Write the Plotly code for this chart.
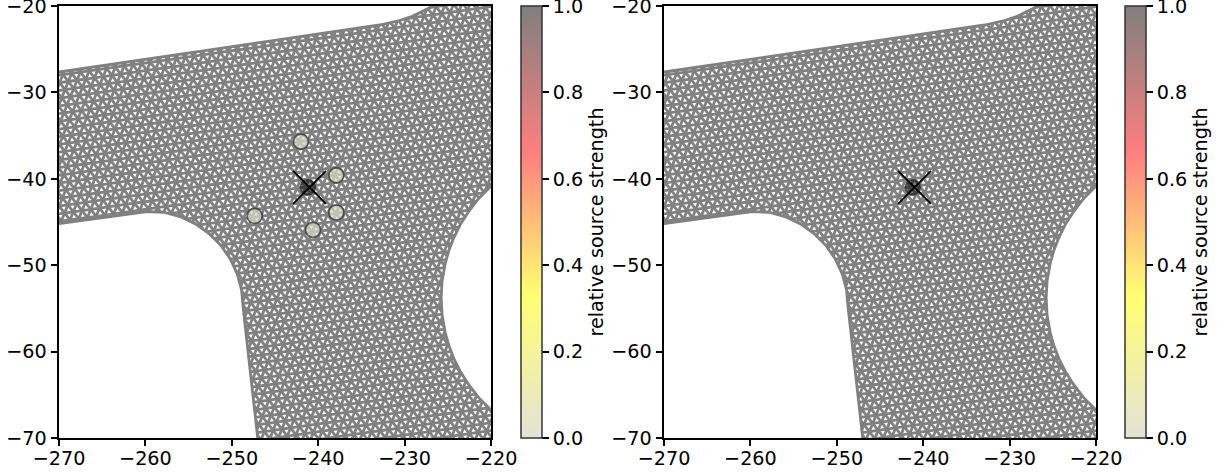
import math
import numpy as np
import plotly.graph_objects as go

# Region outline of the meshed domain
outline_x = [-272.0, -270.0, -232.9, -230.6, -229.1, -227.9, -227.1, -226.5, -224.0, -218.0,
             -218.0, -218.55, -219.97, -221.45, -222.6, -223.56, -224.3, -224.88, -225.3, -225.66, -225.77,
             -225.66, -225.3, -224.88, -224.3, -223.56, -222.6, -221.45, -219.97, -218.55, -218.0, -218.0,
             -246.7, -247.0, -248.7, -248.87, -249.37, -250.19, -251.3, -252.67, -254.25, -256.0, -257.87, -259.8,
             -270.0, -272.0]
outline_y = [-27.9, -27.64, -22.2, -21.7, -21.2, -20.6, -20.15, -19.9, -18.5, -18.5,
             -39.3, -39.3, -40.8, -42.3, -43.8, -45.3, -46.8, -48.3, -49.8, -51.8, -53.8,
             -55.8, -57.8, -59.3, -60.8, -62.3, -63.8, -65.3, -66.8, -68.3, -68.3, -72.5,
             -72.5, -70.0, -54.8, -52.87, -51.0, -49.25, -47.67, -46.3, -45.19, -44.37, -43.87, -43.8,
             -45.2, -45.5]

mesh_edge = 1.02
mesh_angle_deg = 8.0

source_x = [-242.0, -237.9, -237.9, -240.6, -247.35, -241.2]
source_y = [-35.7, -39.6, -43.9, -45.9, -44.3, -41.0]
source_strength = [0.0, 0.0, 0.0, 0.0, 0.0, 1.0]
estimate_x = [-241.0]
estimate_y = [-41.0]
cbar_ticks = [0.0, 0.2, 0.4, 0.6, 0.8, 1.0]
x_ticks = [-270, -260, -250, -240, -230, -220]
y_ticks = [-70, -60, -50, -40, -30, -20]
cbar_label = "relative source strength"

px, py = np.array(outline_x), np.array(outline_y)


def inside(x, y):
    x1, y1 = px, py
    x2, y2 = np.roll(px, -1), np.roll(py, -1)
    cond = (y1 > y) != (y2 > y)
    with np.errstate(divide="ignore", invalid="ignore"):
        xi = x1 + (y - y1) * (x2 - x1) / (y2 - y1)
    return bool(np.sum(cond & (x < xi)) % 2)


def build_mesh():
    th = math.radians(mesh_angle_deg)
    ax, ay = mesh_edge * math.cos(th), mesh_edge * math.sin(th)
    bx, by = mesh_edge * math.cos(th + math.pi / 3), mesh_edge * math.sin(th + math.pi / 3)
    x0, y0 = -245.0, -45.0
    xs, ys = [], []
    n = 90
    cache = {}

    def ins(i, j):
        k = (i, j)
        if k not in cache:
            cache[k] = inside(x0 + i * ax + j * bx, y0 + i * ay + j * by)
        return cache[k]

    for i in range(-n, n):
        for j in range(-n, n):
            xa, ya = x0 + i * ax + j * bx, y0 + i * ay + j * by
            if not (-273 < xa < -217 and -74 < ya < -17):
                continue
            for di, dj in ((1, 0), (0, 1), (-1, 1)):
                xb, yb = x0 + (i + di) * ax + (j + dj) * bx, y0 + (i + di) * ay + (j + dj) * by
                ia, ib = ins(i, j), ins(i + di, j + dj)
                if not ia and not ib:
                    continue
                sx, sy, ex, ey = xa, ya, xb, yb
                if ia != ib:
                    lo, hi = 0.0, 1.0
                    if ib:
                        sx, sy, ex, ey = xb, yb, xa, ya
                    for _ in range(10):
                        m = (lo + hi) / 2
                        if inside(sx + m * (ex - sx), sy + m * (ey - sy)):
                            lo = m
                        else:
                            hi = m
                    ex, ey = sx + lo * (ex - sx), sy + lo * (ey - sy)
                xs += [round(sx, 3), round(ex, 3), None]
                ys += [round(sy, 3), round(ey, 3), None]
    xs += outline_x + [None]
    ys += outline_y + [None]
    return xs, ys


mesh_x, mesh_y = build_mesh()

W, H = 1223, 473
ML, MR, MT, MB = 59, 50, 6, 35
PW = W - ML - MR
FONT = "DejaVu Sans"
FS = 19.2
TICK = 6.7
LW = 1.5
GREY = "#808080"
BAR_SCALE = [[0, "#e3e2d7"], [0.33, "#ffff73"], [0.66, "#ff7f7f"], [1, "#7f7f7f"]]
DOT_SCALE = [[0, "rgba(216,216,202,0.72)"], [0.33, "rgba(255,255,0,0.5)"],
             [0.66, "rgba(255,0,0,0.5)"], [1, "rgba(0,0,0,0.5)"]]


def fx(pixel):
    return (pixel - ML) / PW


fig = go.Figure()
panels = [
    dict(xa="x", ya="y", bar=520.5, src=(source_x, source_y, source_strength)),
    dict(xa="x2", ya="y2", bar=1125.0, src=(source_x[-1:], source_y[-1:], source_strength[-1:])),
]
for p in panels:
    fig.add_trace(go.Scatter(x=mesh_x, y=mesh_y, xaxis=p["xa"], yaxis=p["ya"], mode="lines",
                             line=dict(color=GREY, width=2.8), hoverinfo="skip", showlegend=False))
    sx, sy, ss = p["src"]
    fig.add_trace(go.Scatter(x=sx, y=sy, xaxis=p["xa"], yaxis=p["ya"], mode="markers", showlegend=False,
                             marker=dict(size=15, color=ss, cmin=0, cmax=1, colorscale=DOT_SCALE, showscale=False,
                                         line=dict(color="rgba(40,40,40,0.7)", width=1.7))))
    fig.add_trace(go.Scatter(x=estimate_x, y=estimate_y, xaxis=p["xa"], yaxis=p["ya"], mode="markers", showlegend=False,
                             marker=dict(size=33, symbol="x-thin", color="black",
                                         line=dict(color="black", width=1.7))))
    # carries the colour bar only
    fig.add_trace(go.Scatter(x=estimate_x * 2, y=estimate_y * 2, xaxis=p["xa"], yaxis=p["ya"], mode="markers",
                             showlegend=False, hoverinfo="skip",
                             marker=dict(size=1, opacity=0, color=[0, 1], cmin=0, cmax=1, colorscale=BAR_SCALE,
                                         showscale=True,
                                         colorbar=dict(x=fx(p["bar"]), xanchor="left", xpad=0, ypad=0,
                                                       y=0, yanchor="bottom", len=1, lenmode="fraction",
                                                       thickness=21, thicknessmode="pixels",
                                                       outlinewidth=LW, outlinecolor="#333333",
                                                       tickmode="array", tickvals=cbar_ticks,
                                                       ticktext=[f"{v:.1f}" for v in cbar_ticks],
                                                       ticks="outside", ticklen=TICK, tickwidth=LW, tickcolor="black",
                                                       ticklabeloverflow="allow",
                                                       tickfont=dict(family=FONT, size=FS, color="black"),
                                                       title=dict(text=cbar_label, side="right",
                                                                  font=dict(family=FONT, size=FS, color="black"))))))


def axis(domain, rng, ticks, anchor, **extra):
    return dict(domain=domain, range=rng, tickmode="array", tickvals=ticks, ticks="outside", ticklen=TICK, tickwidth=LW,
                tickcolor="black", showgrid=False, zeroline=False, showline=True, mirror=True, linecolor="black",
                linewidth=LW, anchor=anchor, automargin=False, ticklabeloverflow="allow",
                tickfont=dict(family=FONT, size=FS, color="black"), **extra)


fig.update_layout(
    template="none",
    width=W, height=H, autosize=False, margin=dict(l=ML, r=MR, t=MT, b=MB, pad=0),
    paper_bgcolor="white", plot_bgcolor="white", showlegend=False,
    xaxis=axis([fx(59), fx(491)], [-270, -220], x_ticks, "y", ticklabelstandoff=-4),
    yaxis=axis([0, 1], [-70, -20], y_ticks, "x"),
    xaxis2=axis([fx(664), fx(1096)], [-270, -220], x_ticks, "y2", ticklabelstandoff=-4),
    yaxis2=axis([0, 1], [-70, -20], y_ticks, "x2"),
)
fig.write_html("out.html", config={"displayModeBar": False},
               post_script="document.body.style.margin='0';document.body.style.overflow='hidden';")
